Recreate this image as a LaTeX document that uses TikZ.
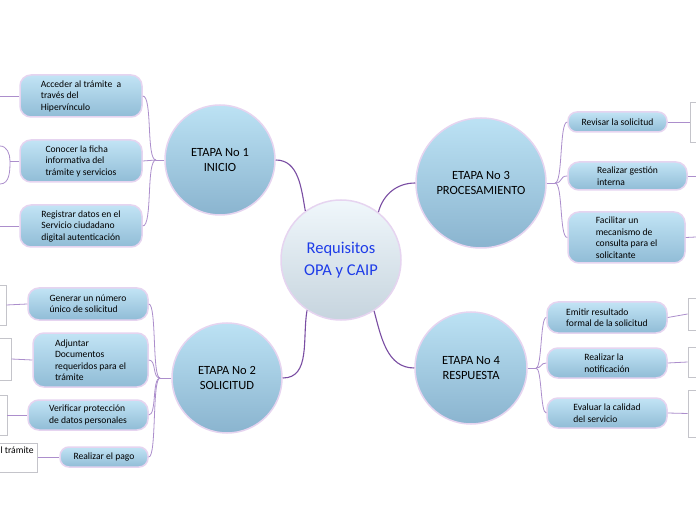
\documentclass[tikz,border=0pt]{standalone}
\usepackage{fontspec}
\setmainfont{Carlito}
\definecolor{hubTop}{RGB}{240,247,251}
\definecolor{hubBottom}{RGB}{198,212,222}
\definecolor{stageTop}{RGB}{188,226,244}
\definecolor{stageBottom}{RGB}{138,180,207}
\definecolor{leafTop}{RGB}{194,228,245}
\definecolor{leafBottom}{RGB}{144,188,214}
\definecolor{rimLilac}{RGB}{230,212,240}
\definecolor{linkPurple}{RGB}{122,78,163}
\definecolor{twigPurple}{RGB}{172,142,204}
\definecolor{titleBlue}{RGB}{30,60,232}
\definecolor{cardEdge}{RGB}{196,196,202}
\tikzset{
  hub/.style={
    circle,
    draw=rimLilac,
    line width=1.5pt,
    top color=hubTop,
    bottom color=hubBottom,
    minimum size=120pt,
    align=center,
    text=titleBlue,
    font=\fontsize{16.5}{22}\selectfont
  },
  stage/.style={
    circle,
    draw=rimLilac,
    line width=1.5pt,
    top color=stageTop,
    bottom color=stageBottom,
    align=center,
    font=\fontsize{12.5}{15}\selectfont
  },
  leaf/.style={
    rectangle,
    rounded corners=11pt,
    draw=rimLilac,
    line width=1.5pt,
    top color=leafTop,
    bottom color=leafBottom,
    align=left,
    inner xsep=4pt,
    inner ysep=2pt,
    font=\fontsize{9.6}{11.5}\selectfont
  },
  card/.style={rectangle, draw=cardEdge, fill=white, line width=0.8pt, font=\fontsize{9.6}{11.5}\selectfont},
  link/.style={draw=linkPurple, line width=1.1pt},
  twig/.style={draw=twigPurple, line width=0.8pt}
}

\begin{document}
\begin{tikzpicture}[x=1pt,y=1pt]
  \useasboundingbox (0,0) rectangle (696,520);
  \clip (0,0) rectangle (696,520);
  \fill[white] (0,0) rectangle (696,520);

  \node[hub] (center) at (341,260) {Requisitos\\OPA y CAIP};

  \node[stage, minimum size=110pt] (e1) at (220,360) {ETAPA No 1\\INICIO};
  \node[stage, minimum size=110pt] (e2) at (227,142) {ETAPA No 2\\SOLICITUD};
  \node[stage, minimum size=130pt] (e3) at (481,337) {ETAPA No 3\\PROCESAMIENTO};
  \node[stage, minimum size=112pt] (e4) at (471,152) {ETAPA No 4\\RESPUESTA};

  \draw[link] (e1.east) to[out=0,in=100] (center.126);
  \draw[link] (e3.west) to[out=180,in=75] (center.52);
  \draw[link] (e2.east) to[out=0,in=-100] (center.236);
  \draw[link] (e4.west) to[out=180,in=-75] (center.-57);

  % etapa 1
  \node[leaf, minimum width=122pt, minimum height=42pt] (a1) at (81,424) {Acceder al trámite \ a\\través del\\Hipervínculo};
  \node[leaf, minimum width=122pt, minimum height=42pt] (a2) at (81,359) {Conocer la ficha\\informativa del\\trámite y servicios};
  \node[leaf, minimum width=122pt, minimum height=42pt] (a3) at (81,294) {Registrar datos en el\\Servicio ciudadano\\digital autenticación};

  \coordinate (e1fork) at (156,360);
  \draw[twig] (e1.west) -- (e1fork);
  \draw[twig] (e1fork) .. controls +(-10,0) and +(10,0) .. (a1.east);
  \draw[twig] (e1fork) -- (a2.east);
  \draw[twig] (e1fork) .. controls +(-10,0) and +(10,0) .. (a3.east);

  \coordinate (a1out) at (0,424);
  \coordinate (a2fork) at (10,359);
  \coordinate (a2up) at (0,374);
  \coordinate (a2down) at (0,336);
  \coordinate (a3out) at (0,294);
  \draw[twig] (a1.west) -- (a1out);
  \draw[twig] (a2.west) -- (a2fork);
  \draw[twig] (a2fork) to[out=90,in=0] (a2up);
  \draw[twig] (a2fork) to[out=-90,in=0] (a2down);
  \draw[twig] (a3.west) -- (a3out);

  % etapa 2
  \node[leaf, minimum width=120pt, minimum height=32pt] (b1) at (88,216) {Generar un número\\único de solicitud};
  \node[leaf, minimum width=115pt, minimum height=54pt] (b2) at (90.5,160) {Adjuntar\\Documentos\\requeridos para el\\trámite};
  \node[leaf, minimum width=120pt, minimum height=30pt] (b3) at (88,105) {Verificar protección\\de datos personales};
  \node[leaf, minimum width=88pt, minimum height=20pt, rounded corners=9pt] (b4) at (104,63) {Realizar el pago};

  \coordinate (e2fork) at (160,142);
  \draw[twig] (e2.west) -- (e2fork);
  \foreach \leafname in {b1,b2,b3,b4}
    \draw[twig] (e2fork) .. controls +(-8,0) and +(8,0) .. (\leafname.east);

  \node[card, minimum width=16pt, minimum height=40pt] (w1) at (-2,215) {};
  \node[card, minimum width=21pt, minimum height=42pt] (w2) at (0.5,161) {};
  \node[card, minimum width=17pt, minimum height=40pt] (w3) at (-1.5,105) {};
  \node[card, anchor=east, inner xsep=4pt, inner ysep=3pt, text height=7pt, text depth=16pt] (w4) at (38,62.5) {l trámite};
  \draw[twig] (w1.east) -- (b1.west);
  \draw[twig] (w2.east) -- (b2.west);
  \draw[twig] (w3.east) -- (b3.west);
  \draw[twig] (w4.east |- b4.west) -- (b4.west);

  % etapa 3
  \node[leaf, minimum width=99pt, minimum height=20pt, rounded corners=9pt] (c1) at (617.5,398) {Revisar la solicitud};
  \node[leaf, minimum width=119pt, minimum height=28pt] (c2) at (627.5,344) {Realizar gestión\\interna};
  \node[leaf, minimum width=117pt, minimum height=51pt] (c3) at (626.5,282.5) {Facilitar un\\mecanismo de\\consulta para el\\solicitante};

  \coordinate (e3fork) at (555,337);
  \draw[twig] (e3.east) -- (e3fork);
  \foreach \leafname in {c1,c2,c3}
    \draw[twig] (e3fork) .. controls +(8,0) and +(-8,0) .. (\leafname.west);

  \node[card, minimum width=22pt, minimum height=40pt] (r1) at (701,398) {};
  \coordinate (c2out) at (696,344);
  \coordinate (c3out) at (696,283);
  \draw[twig] (c1.east) -- (r1.west);
  \draw[twig] (c2.east) -- (c2out);
  \draw[twig] (c3.east) -- (c3out);

  % etapa 4
  \node[leaf, minimum width=120pt, minimum height=31pt] (d1) at (607,202.5) {Emitir resultado\\formal de la solicitud};
  \node[leaf, minimum width=120pt, minimum height=30pt] (d2) at (607,157) {Realizar la\\notificación};
  \node[leaf, minimum width=120pt, minimum height=30pt] (d3) at (607,107) {Evaluar la calidad\\del servicio};

  \coordinate (e4fork) at (536,152);
  \draw[twig] (e4.east) -- (e4fork);
  \foreach \leafname in {d1,d2,d3}
    \draw[twig] (e4fork) .. controls +(6,0) and +(-6,0) .. (\leafname.west);

  \node[card, minimum width=24pt, minimum height=32pt] (r2) at (700,206) {};
  \node[card, minimum width=24pt, minimum height=30pt] (r3) at (700,158) {};
  \node[card, minimum width=24pt, minimum height=47pt] (r4) at (700,106.5) {};
  \draw[twig] (d1.east) -- (r2.west);
  \draw[twig] (d2.east) -- (r3.west);
  \draw[twig] (d3.east) -- (r4.west);
\end{tikzpicture}
\end{document}
